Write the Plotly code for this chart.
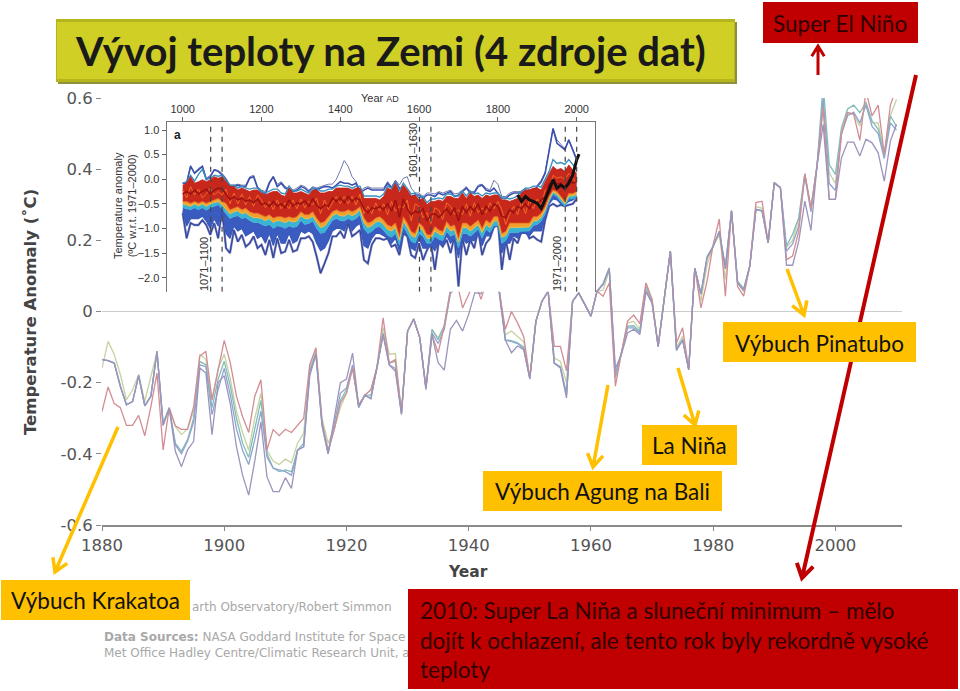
import math
import plotly.graph_objects as go

# main chart: four temperature records plus a fifth variant, 1880-2010
years = list(range(1880, 2011))
anomaly_red = [
    -.281, -.212, -.259, -.27, -.32, -.32, -.292, -.349, -.267, -.173,
    -.389, -.271, -.321, -.331, -.331, -.267, -.126, -.112, -.248, -.163,
    -.081, -.145, -.238, -.295, -.34, -.238, -.192, -.389, -.332, -.349,
    -.331, -.34, -.321, -.30, -.149, -.102, -.314, -.393, -.332, -.257,
    -.23, -.159, -.262, -.235, -.22, -.155, -.018, -.145, -.135, -.285,
    -.055, -.021, -.074, -.215, -.065, -.116, -.04, .053, .09, .01,
    .048, .09, .034, .09, .14, .057, -.05, 0, -.032, -.07,
    -.187, -.027, .029, .057, -.098, -.098, -.167, .029, .052, .02,
    -.013, .057, .043, .08, -.21, -.116, -.027, -.01, -.034, .08,
    .034, -.098, .034, .17, -.088, -.046, -.163, .122, .01, .085,
    .188, .26, .043, .283, .07, .043, .128, .306, .31, .193,
    .362, .348, .146, .156, .226, .387, .29, .41, .573, .315,
    .315, .498, .559, .554, .481, .62, .55, .58, .442, .58, .629]
anomaly_green = [
    -.159, -.084, -.121, -.177, -.248, -.22, -.177, -.253, -.182, -.116,
    -.314, -.271, -.323, -.346, -.33, -.28, -.12, -.135, -.25, -.16,
    -.12, -.19, -.28, -.34, -.39, -.30, -.23, -.39, -.42, -.43,
    -.415, -.425, -.37, -.342, -.155, -.105, -.30, -.37, -.33, -.27,
    -.23, -.16, -.265, -.235, -.22, -.16, -.045, -.12, -.118, -.285,
    -.055, -.021, -.074, -.215, -.05, -.074, -.04, .06, .08, .07,
    .08, .09, .08, .1, .15, .06, -.065, -.055, -.07, -.085,
    -.187, -.027, .029, .057, -.13, -.14, -.2, .029, .052, .02,
    -.013, .057, .06, .115, -.19, -.115, -.032, -.028, -.05, .08,
    .034, -.098, .034, .17, -.10, -.07, -.163, .122, .03, .13,
    .185, .215, .09, .283, .08, .055, .128, .295, .29, .193,
    .362, .348, .18, .2, .26, .387, .29, .41, .58, .39,
    .36, .51, .559, .554, .521, .59, .53, .53, .44, .55, .596]
anomaly_teal = [
    -.135, -.138, -.145, -.21, -.262, -.253, -.18, -.265, -.238, -.112,
    -.314, -.271, -.37, -.393, -.36, -.30, -.14, -.15, -.27, -.19,
    -.14, -.21, -.30, -.37, -.41, -.33, -.25, -.40, -.44, -.45,
    -.445, -.45, -.39, -.37, -.165, -.115, -.31, -.39, -.33, -.25,
    -.22, -.155, -.27, -.235, -.235, -.16, -.06, -.145, -.14, -.285,
    -.055, -.021, -.074, -.215, -.05, -.079, -.04, .06, .08, .07,
    .08, .09, .08, .1, .15, .06, -.08, -.082, -.088, -.10,
    -.187, -.027, .029, .057, -.145, -.155, -.23, .029, .052, .02,
    -.013, .057, .08, .123, -.185, -.115, -.041, -.04, -.056, .07,
    .03, -.098, .034, .17, -.105, -.08, -.163, .122, .048, .155,
    .183, .225, .128, .283, .085, .065, .128, .287, .283, .193,
    .362, .348, .184, .217, .263, .387, .29, .41, .64, .413,
    .385, .517, .569, .58, .559, .587, .536, .512, .442, .55, .52]
anomaly_blue = [
    -.135, -.138, -.145, -.21, -.262, -.253, -.18, -.265, -.238, -.112,
    -.32, -.271, -.375, -.40, -.365, -.31, -.15, -.155, -.29, -.22,
    -.16, -.235, -.33, -.39, -.43, -.36, -.28, -.41, -.44, -.445,
    -.45, -.46, -.39, -.38, -.17, -.12, -.32, -.40, -.32, -.23,
    -.215, -.15, -.27, -.235, -.245, -.16, -.065, -.15, -.16, -.285,
    -.055, -.021, -.074, -.215, -.06, -.09, -.05, .05, .07, .06,
    .07, .085, .075, .1, .15, .06, -.08, -.085, -.09, -.105,
    -.187, -.027, .029, .057, -.145, -.157, -.235, .029, .052, .02,
    -.013, .057, .076, .12, -.175, -.115, -.046, -.046, -.06, .06,
    .025, -.098, .034, .17, -.11, -.08, -.163, .122, .05, .15,
    .183, .225, .12, .283, .08, .06, .128, .287, .283, .193,
    .362, .348, .17, .19, .24, .38, .28, .41, .6, .36,
    .34, .5, .55, .56, .53, .58, .52, .5, .43, .53, .51]
anomaly_lavender = [
    -.135, -.138, -.145, -.21, -.262, -.253, -.18, -.265, -.238, -.112,
    -.32, -.271, -.393, -.436, -.389, -.365, -.159, -.173, -.346, -.2,
    -.18, -.26, -.38, -.46, -.516, -.42, -.31, -.465, -.506, -.506,
    -.467, -.497, -.389, -.38, -.18, -.12, -.32, -.40, -.30, -.20,
    -.19, -.117, -.266, -.235, -.245, -.16, -.065, -.15, -.168, -.29,
    -.055, -.021, -.074, -.22, -.065, -.144, -.165, -.05, -.025, -.055,
    -.008, .053, .05, .09, .14, .05, -.08, -.116, -.097, -.107,
    -.19, -.027, .029, .057, -.145, -.159, -.243, .029, .052, .02,
    -.013, .057, .076, .12, -.16, -.12, -.06, -.05, -.065, .055,
    .024, -.098, .034, .17, -.107, -.08, -.163, .122, .05, .15,
    .183, .225, .12, .283, .08, .06, .128, .287, .283, .193,
    .362, .348, .13, .13, .197, .31, .228, .41, .526, .315,
    .315, .432, .476, .476, .437, .484, .474, .446, .366, .479, .526]
main_xticks = [1880, 1900, 1920, 1940, 1960, 1980, 2000]
main_yticks = [-.6, -.4, -.2, 0, .2, .4, .6]
main_ylabels = ['-0.6', '-0.4', '-0.2', '0', '0.2', '0.4', '0.6']

# inset: thousand year reconstruction, read once per decade
decades = list(range(1000, 2001, 10))
thin_top = [
    -.08, -.06, .28, .14, .22, .27, .02, .08, .2, .18,
    .12, .02, -.12, -.12, -.1, -.12, -.12, .05, .08, -.15,
    -.22, -.25, -.05, .06, -.1, -.05, -.15, -.18, -.22, -.18,
    -.12, -.15, -.22, -.15, -.18, -.15, -.12, -.1, -.1, .0,
    .18, .38, .26, .05, -.05, -.25, -.18, -.15, -.18, -.18,
    -.18, -.18, -.05, -.15, -.02, -.12, .02, .05, -.18, -.28,
    -.28, -.35, -.28, -.28, -.3, -.25, -.28, -.25, -.22, -.3,
    -.28, -.22, -.15, -.25, -.25, -.12, -.1, -.18, -.22, -.02,
    -.1, -.35, -.35, -.28, -.25, -.25, -.25, -.18, -.22, -.25,
    -.12, -.02, .15, .6, 1.03, .8, .7, .62, .8, .62, .42]
blue_high = [
    -.08, -.08, .26, .12, .19, .26, -.01, .05, .19, .16,
    .09, -.01, -.15, -.15, -.12, -.15, -.15, .02, .05, -.18,
    -.25, -.3, -.08, .05, -.15, -.08, -.18, -.22, -.25, -.22,
    -.15, -.18, -.25, -.18, -.22, -.18, -.15, -.15, -.18, -.12,
    -.05, -.08, -.08, -.12, -.08, -.28, -.22, -.18, -.22, -.22,
    -.22, -.22, -.08, -.18, -.05, -.18, -.18, -.28, -.35, -.32,
    -.32, -.39, -.32, -.32, -.35, -.28, -.32, -.28, -.25, -.35,
    -.32, -.25, -.18, -.28, -.28, -.15, -.12, -.22, -.25, -.18,
    -.28, -.39, -.39, -.32, -.28, -.28, -.28, -.22, -.25, -.28,
    -.15, -.05, .12, .56, 1.03, .73, .66, .6, .8, .6, .39]
upper_edge = [
    -.08, -.05, .08, -.04, .1, .2, .0, .02, .08, .06,
    .08, -.02, -.12, -.12, -.18, -.14, -.18, -.2, -.18, -.18,
    -.24, -.28, -.24, -.2, -.2, -.28, -.3, -.14, -.24, -.24,
    -.2, -.24, -.28, -.18, -.18, -.24, -.24, -.2, -.2, -.14,
    -.12, -.14, -.14, -.18, -.14, -.14, -.34, -.34, -.34, -.34,
    -.36, -.3, -.14, -.18, -.05, -.24, -.08, -.18, -.3, -.28,
    -.38, -.35, -.48, -.4, -.4, -.38, -.4, -.3, -.3, -.34,
    -.34, -.24, -.34, -.24, -.3, -.28, -.34, -.28, -.3, -.28,
    -.28, -.38, -.38, -.4, -.38, -.34, -.24, -.18, -.18, -.14,
    -.14, -.16, .0, .16, .4, .32, .34, .3, .4, .3, .2]
red_high = [
    -.12, -.08, .05, -.08, -.05, -.01, -.05, -.01, .05, .02,
    .05, -.05, -.15, -.15, -.22, -.18, -.22, -.25, -.22, -.22,
    -.28, -.32, -.28, -.25, -.25, -.32, -.35, -.18, -.28, -.28,
    -.25, -.28, -.32, -.22, -.22, -.28, -.28, -.25, -.25, -.18,
    -.18, -.18, -.18, -.22, -.18, -.18, -.39, -.39, -.39, -.39,
    -.42, -.35, -.18, -.22, -.08, -.28, -.12, -.22, -.35, -.32,
    -.42, -.39, -.52, -.45, -.45, -.42, -.45, -.35, -.35, -.39,
    -.39, -.28, -.39, -.28, -.35, -.32, -.39, -.32, -.35, -.32,
    -.32, -.42, -.42, -.45, -.42, -.39, -.28, -.22, -.22, -.18,
    -.18, -.22, -.05, .09, .26, .19, .22, .16, .29, .19, .12]
dark_mid = [
    -.3, -.25, -.3, -.22, -.3, -.25, -.2, -.3, -.22, -.18,
    -.2, -.3, -.42, -.35, -.42, -.38, -.45, -.42, -.48, -.4,
    -.52, -.48, -.55, -.45, -.55, -.5, -.58, -.42, -.55, -.48,
    -.5, -.44, -.55, -.4, -.52, -.6, -.52, -.55, -.38, -.45,
    -.38, -.48, -.35, -.45, -.38, -.42, -.6, -.68, -.58, -.6,
    -.55, -.62, -.5, -.65, -.42, -.78, -.4, -.6, -.72, -.65,
    -.68, -.6, -.85, -.72, -.7, -.78, -.68, -.6, -.72, -.58,
    -.85, -.55, -.68, -.55, -.65, -.5, -.72, -.55, -.65, -.5,
    -.55, -.75, -.78, -.62, -.68, -.55, -.6, -.5, -.6, -.45,
    -.5, -.42, -.35, -.1, -.05, -.1, -.08, -.18, -.02, -.08, -.05]
orange_mid = [
    -.22, -.38, -.15, -.32, -.2, -.38, -.3, -.18, -.32, -.25,
    -.32, -.2, -.5, -.28, -.5, -.3, -.52, -.35, -.55, -.32,
    -.42, -.58, -.45, -.62, -.42, -.6, -.48, -.6, -.42, -.6,
    -.4, -.58, -.45, -.52, -.38, -.7, -.42, -.62, -.48, -.35,
    -.5, -.35, -.5, -.35, -.52, -.3, -.7, -.55, -.7, -.48,
    -.65, -.5, -.72, -.45, -.65, -.55, -.58, -.42, -.85, -.5,
    -.55, -.78, -.68, -.9, -.58, -.62, -.82, -.48, -.55, -.72,
    -.62, -.72, -.5, -.75, -.48, -.68, -.58, -.68, -.48, -.6,
    -.45, -.62, -.92, -.7, -.55, -.72, -.45, -.7, -.42, -.6,
    -.4, -.55, -.22, -.2, .08, .02, .05, .0, .12, .02, -.08]
red_low = [
    -.45, -.45, -.49, -.45, -.49, -.45, -.49, -.45, -.42, -.39,
    -.45, -.49, -.62, -.59, -.56, -.62, -.59, -.66, -.69, -.69,
    -.72, -.76, -.72, -.79, -.76, -.76, -.79, -.76, -.79, -.76,
    -.66, -.72, -.72, -.66, -.79, -.89, -.86, -.76, -.66, -.62,
    -.66, -.66, -.62, -.66, -.62, -.56, -.79, -.89, -.86, -.79,
    -.76, -.83, -.93, -.96, -.89, -1.16, -.76, -.89, -1.06, -1.1,
    -.89, -.96, -1.13, -1.13, -.96, -1.03, -1.06, -.86, -.96, -.93,
    -1.2, -.89, -.89, -.96, -.89, -.83, -1.0, -.83, -.89, -.76,
    -.76, -1.1, -1.06, -.89, -.89, -.89, -.89, -.89, -.89, -.76,
    -.76, -.69, -.56, -.35, -.22, -.25, -.35, -.45, -.29, -.29, -.25]
yellow_low = [
    -.5, -.52, -.55, -.5, -.54, -.5, -.55, -.5, -.47, -.45,
    -.52, -.6, -.7, -.66, -.64, -.7, -.68, -.74, -.78, -.78,
    -.8, -.84, -.8, -.88, -.84, -.85, -.88, -.84, -.87, -.85,
    -.74, -.8, -.8, -.75, -.88, -.98, -.95, -.85, -.74, -.7,
    -.74, -.75, -.7, -.74, -.7, -.62, -.88, -.98, -.94, -.87,
    -.85, -.92, -1.02, -1.05, -.98, -1.24, -.85, -.98, -1.14, -1.18,
    -.98, -1.05, -1.2, -1.2, -1.05, -1.11, -1.14, -.95, -1.05, -1.02,
    -1.28, -.98, -.98, -1.05, -.98, -.92, -1.08, -.92, -.98, -.85,
    -.85, -1.18, -1.14, -.98, -.98, -.98, -.98, -.97, -.97, -.85,
    -.84, -.77, -.62, -.4, -.26, -.3, -.4, -.5, -.34, -.34, -.3]
cyan_low = [
    -.58, -.6, -.62, -.58, -.62, -.58, -.63, -.58, -.55, -.52,
    -.6, -.7, -.8, -.76, -.74, -.8, -.78, -.84, -.88, -.88,
    -.92, -.95, -.92, -1.0, -.95, -.96, -1.0, -.95, -.98, -.96,
    -.84, -.92, -.9, -.85, -1.0, -1.1, -1.08, -.96, -.84, -.8,
    -.84, -.85, -.8, -.84, -.8, -.72, -1.0, -1.1, -1.06, -.98,
    -.96, -1.04, -1.14, -1.18, -1.1, -1.34, -.96, -1.1, -1.26, -1.3,
    -1.1, -1.16, -1.3, -1.3, -1.16, -1.22, -1.25, -1.06, -1.16, -1.12,
    -1.4, -1.1, -1.1, -1.16, -1.08, -1.02, -1.2, -1.02, -1.08, -.95,
    -.94, -1.3, -1.25, -1.08, -1.08, -1.08, -1.06, -1.05, -1.05, -.94,
    -.92, -.85, -.7, -.46, -.3, -.36, -.46, -.56, -.4, -.4, -.36]
blue_mid = [
    -.65, -.95, -.8, -.8, -.8, -.75, -.85, -1.0, -.8, -.95,
    -.6, -1.1, -1.2, -.95, -1.05, -1.0, -1.15, -1.1, -1.05, -1.2,
    -1.15, -1.3, -1.1, -1.35, -1.1, -1.3, -1.3, -1.1, -1.3, -1.25,
    -1.05, -1.1, -1.05, -1.1, -1.3, -1.45, -1.4, -1.25, -1.05, -1.0,
    -1.0, -1.05, -.85, -1.05, -.95, -.9, -1.35, -1.4, -1.2, -1.1,
    -1.1, -1.15, -1.2, -1.3, -1.2, -1.45, -1.05, -1.15, -1.4, -1.45,
    -1.2, -1.4, -1.4, -1.35, -1.45, -1.3, -1.35, -1.15, -1.3, -1.2,
    -1.6, -1.2, -1.3, -1.25, -1.25, -1.1, -1.35, -1.15, -1.15, -.98,
    -.95, -1.5, -1.3, -1.3, -1.15, -1.2, -1.1, -1.1, -1.15, -1.05,
    -1.05, -1.05, -.8, -.5, -.4, -.42, -.5, -.52, -.45, -.42, -.36]
blue_low = [
    -.69, -1.2, -.89, -.93, -.93, -.83, -.93, -1.13, -.89, -1.2,
    -.62, -1.4, -1.5, -1.03, -1.27, -1.13, -1.37, -1.3, -1.16, -1.4,
    -1.33, -1.54, -1.23, -1.6, -1.2, -1.5, -1.47, -1.23, -1.47, -1.44,
    -1.2, -1.2, -1.16, -1.27, -1.57, -1.91, -1.71, -1.5, -1.16, -1.16,
    -1.06, -1.2, -.89, -1.16, -1.1, -1.03, -1.64, -1.71, -1.33, -1.2,
    -1.2, -1.23, -1.2, -1.37, -1.33, -1.54, -1.1, -1.16, -1.54, -1.6,
    -1.3, -1.64, -1.44, -1.3, -1.84, -1.27, -1.37, -1.23, -1.5, -1.16,
    -2.18, -1.2, -1.54, -1.23, -1.4, -1.03, -1.54, -1.3, -1.2, -.96,
    -.83, -1.84, -1.23, -1.64, -1.2, -1.3, -1.06, -1.03, -1.2, -1.16,
    -1.23, -1.27, -.83, -.55, -.5, -.55, -.52, -.55, -.52, -.5, -.4]
instrumental_years = [1850, 1860, 1870, 1880, 1890, 1900, 1910, 1920, 1930,
                      1940, 1950, 1960, 1970, 1980, 1990, 2000, 2006]
instrumental = [-.32, -.45, -.35, -.42, -.45, -.49, -.59, -.42, -.22,
                -.01, -.18, -.12, -.18, -.08, .09, .39, .51]
inset_xticks = [1000, 1200, 1400, 1600, 1800, 2000]
inset_yticks = [1.0, .5, 0, -.5, -1.0, -1.5, -2.0]
inset_ylabels = ['1.0', '0.5', '0.0', '−0.5', '−1.0', '−1.5', '−2.0']
period_years = [1071, 1100, 1601, 1630, 1971, 2000]

W, H = 960, 691
SANS = 'Lato'
AXIS_FONT = 'DejaVu Sans'
INSET_FONT = 'Liberation Sans'
YELLOW = '#ffc000'
DARK_RED = '#c00000'


def px(x):
    return x / W


def py(y):
    return 1 - y / H


def line_trace(x, y, color, width, axes='main', fill=None, fillcolor=None):
    xa, ya = ('x', 'y') if axes == 'main' else ('x2', 'y2')
    return go.Scatter(x=x, y=y, xaxis=xa, yaxis=ya, mode='lines',
                      line=dict(color=color, width=width), fill=fill,
                      fillcolor=fillcolor, hoverinfo='skip', showlegend=False)


def arrow_shape(x0, y0, x1, y1, color, width, barb=15):
    ang = math.atan2(y1 - y0, x1 - x0)
    a = (x1 - barb * math.cos(ang - .55), y1 - barb * math.sin(ang - .55))
    b = (x1 - barb * math.cos(ang + .55), y1 - barb * math.sin(ang + .55))
    path = (f'M {px(x0)} {py(y0)} L {px(x1)} {py(y1)} '
            f'M {px(a[0])} {py(a[1])} L {px(x1)} {py(y1)} L {px(b[0])} {py(b[1])}')
    return dict(type='path', xref='paper', yref='paper', path=path, layer='above',
                line=dict(color=color, width=width))


def rect_shape(x0, y0, x1, y1, color):
    return dict(type='rect', xref='paper', yref='paper', x0=px(x0), x1=px(x1),
                y0=py(y1), y1=py(y0), fillcolor=color, line=dict(width=0), layer='above')


def label(x, y, text, size, color, font=SANS, anchor='center', angle=0):
    return dict(xref='paper', yref='paper', x=px(x), y=py(y), text=text, showarrow=False,
                xanchor=anchor, yanchor='middle', textangle=angle,
                font=dict(family=font, size=size, color=color))


def box(x0, y0, x1, y1, color):
    return dict(xref='paper', yref='paper', x=px(x0), y=py(y0), text=' ', showarrow=False,
                xanchor='left', yanchor='top', width=x1 - x0, height=y1 - y0,
                bgcolor=color, borderpad=0, borderwidth=0)


fig = go.Figure()

for values, color in [(anomaly_green, '#c6d2a2'), (anomaly_teal, '#82bcb8'),
                      (anomaly_blue, '#8ea4d0'), (anomaly_red, '#d28d94'),
                      (anomaly_lavender, '#9c94ba')]:
    fig.add_trace(line_trace(years, values, color, 1.3))

fig.add_trace(line_trace(decades, thin_top, '#6f78a8', 1, 'inset'))
fig.add_trace(line_trace(decades, blue_high, '#3a50ae', 1.6, 'inset'))
fig.add_trace(line_trace(decades, blue_low, '#8f94c4', 2.4, 'inset'))
fig.add_trace(line_trace(decades, blue_low, '#34479f', 1.3, 'inset'))
fig.add_trace(line_trace(decades, upper_edge, '#3a8fc0', 1.4, 'inset'))
fig.add_trace(line_trace(decades, blue_mid, '#3a58b8', 1.2, 'inset'))
fig.add_trace(line_trace(decades, cyan_low, '#35a8d8', .6, 'inset', 'tonexty', '#3a5cc0'))
fig.add_trace(line_trace(decades, yellow_low, '#f0c030', .8, 'inset', 'tonexty', '#3ab4d2'))
fig.add_trace(line_trace(decades, red_low, '#e8601c', .8, 'inset', 'tonexty', '#f0a030'))
fig.add_trace(line_trace(decades, red_high, '#c02018', .8, 'inset', 'tonexty', '#c8281c'))
fig.add_trace(line_trace(decades, orange_mid, '#ee6a28', 1, 'inset'))
fig.add_trace(line_trace(decades, dark_mid, '#9c1210', 1.6, 'inset'))
fig.add_trace(line_trace(instrumental_years, instrumental, '#111111', 3, 'inset'))

shapes = [
    dict(type='line', xref='x2', yref='y2', x0=yr, x1=yr, y0=-2.285, y1=1.1, layer='above',
         line=dict(color='#444444', width=1.2, dash='5px,5px'))
    for yr in period_years
]
shapes += [
    rect_shape(58, 22, 737, 84, '#8f8f3c'),
    rect_shape(56, 19, 735, 82, '#b5b51e'),
    rect_shape(57, 22, 734, 79, '#cfcf26'),
    rect_shape(763, 2, 918, 43, DARK_RED),
    arrow_shape(818, 75, 818, 46, DARK_RED, 3, 12),
    arrow_shape(916, 75, 802, 578, DARK_RED, 4, 16),
    arrow_shape(787, 269, 804, 315, YELLOW, 3.5),
    arrow_shape(678, 368, 695, 425, YELLOW, 3.5),
    arrow_shape(608, 385, 593, 467, YELLOW, 3.5),
    arrow_shape(118, 427, 55, 572, YELLOW, 3.5),
]

annotations = [
    label(390, 51, '<b>Vývoj teploty na Zemi (4 zdroje dat)</b>', 40, '#1a1a1a'),
    label(840, 24, 'Super El Niño', 22.5, '#300000'),
    label(30, 312, '<b>Temperature Anomaly (˚C)</b>', 16.5, '#444444', AXIS_FONT, angle=-90),
    label(468, 572, '<b>Year</b>', 15.5, '#444444', AXIS_FONT),
    label(190, 607, 'arth Observatory/Robert Simmon', 12, '#a8a8a8', AXIS_FONT, 'left'),
    label(102, 637, '<b>Data Sources:</b> NASA Goddard Institute for Space St', 12,
          '#a8a8a8', AXIS_FONT, 'left'),
    label(102, 653, 'Met Office Hadley Centre/Climatic Research Unit, a', 12,
          '#a8a8a8', AXIS_FONT, 'left'),
    box(723, 322, 916, 362, YELLOW),
    box(642, 425, 737, 465, YELLOW),
    box(483, 471, 722, 511, YELLOW),
    box(1, 580, 190, 620, YELLOW),
    box(408, 589, 958, 689, DARK_RED),
    label(819, 343, 'Výbuch Pinatubo', 22.5, '#111111'),
    label(689, 445, 'La Niňa', 22.5, '#111111'),
    label(602, 491, 'Výbuch Agung na Bali', 22.5, '#111111'),
    label(95, 600, 'Výbuch Krakatoa', 22.5, '#111111'),
    label(418, 610, '2010: Super La Niňa a sluneční minimum – mělo', 22.5, '#300000', anchor='left'),
    label(418, 640, 'dojít k ochlazení, ale tento rok byly rekordně vysoké', 22.5, '#300000', anchor='left'),
    label(418, 669, 'teploty', 22.5, '#300000', anchor='left'),
    label(380, 98, 'Year <span style="font-size:9px">AD</span>', 11, '#333333', INSET_FONT),
    label(125, 206, 'Temperature anomaly<br>(ºC w.r.t. 1971–2000)', 11, '#333333', INSET_FONT, angle=-90),
    label(172, 135, '<b>a</b>', 12, '#222222', INSET_FONT, 'left'),
    label(204, 264, '1071–1100', 11, '#333333', INSET_FONT, angle=-90),
    label(413, 151, '1601–1630', 11, '#333333', INSET_FONT, angle=-90),
    label(557, 264, '1971–2000', 11, '#333333', INSET_FONT, angle=-90),
]

fig.update_layout(
    width=W, height=H,
    margin=dict(l=0, r=0, t=0, b=0, autoexpand=False),
    paper_bgcolor='white', plot_bgcolor='white',
    showlegend=False,
    shapes=shapes,
    annotations=annotations,
    xaxis=dict(domain=[px(102), px(902)], range=[1880, 2010.9], anchor='y',
               tickvals=main_xticks, ticks='outside', ticklen=4, tickcolor='#888888',
               showgrid=False, zeroline=False, showline=True, linecolor='#8a8a8a', linewidth=1.5,
               tickfont=dict(family=AXIS_FONT, size=16.5, color='#555555')),
    yaxis=dict(domain=[py(525), py(98)], range=[-.6, .6], anchor='x',
               tickvals=main_yticks, ticktext=main_ylabels, ticks='outside', ticklen=5,
               tickcolor='#888888', showgrid=False, zeroline=True, zerolinecolor='#cccccc',
               zerolinewidth=1.2, showline=False,
               tickfont=dict(family=AXIS_FONT, size=16.5, color='#555555')),
    xaxis2=dict(domain=[px(166.7), px(595)], range=[959.4, 2046.5], anchor='y2', side='top',
                tickvals=inset_xticks, ticks='outside', ticklen=4, tickcolor='#666666',
                showgrid=False, zeroline=False, showline=True, linecolor='#777777', linewidth=1.2,
                tickfont=dict(family=INSET_FONT, size=11, color='#333333')),
    yaxis2=dict(domain=[py(291.7), py(122)], range=[-2.285, 1.163], anchor='x2', side='left',
                tickvals=inset_yticks, ticktext=inset_ylabels, ticks='outside', ticklen=4,
                tickcolor='#666666', showgrid=False, zeroline=False, showline=True, mirror=True,
                linecolor='#777777', linewidth=1.2,
                tickfont=dict(family=INSET_FONT, size=11, color='#333333')),
)

fig.write_html("out.html", config=dict(displayModeBar=False),
               post_script="document.body.style.margin='0';")
